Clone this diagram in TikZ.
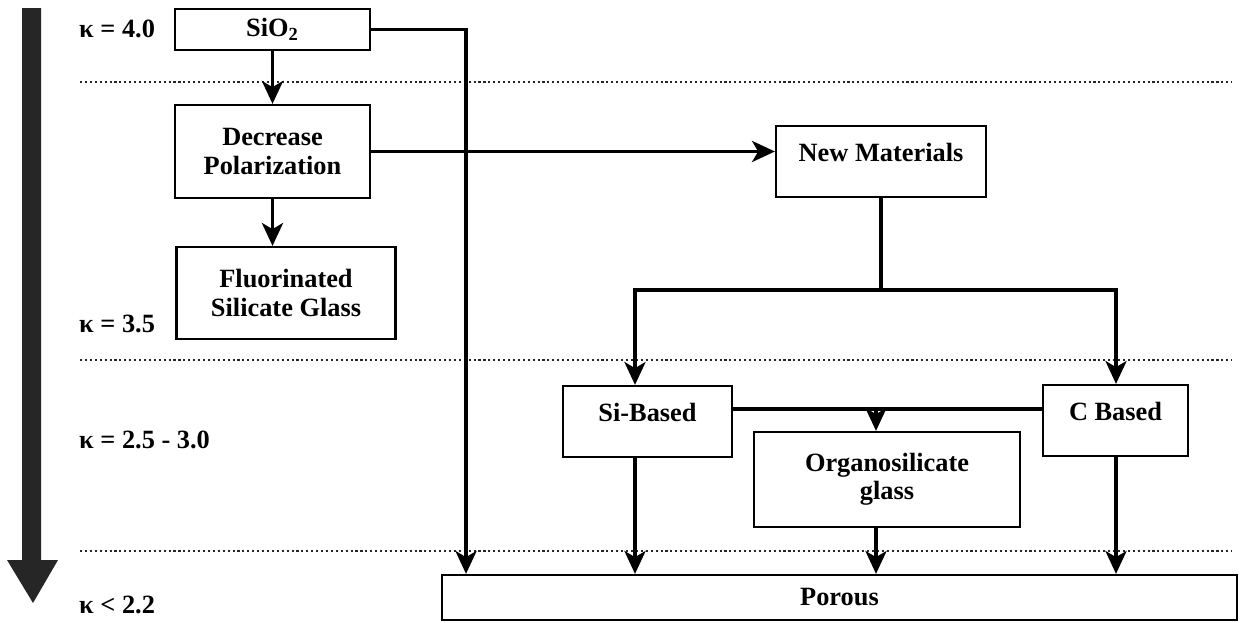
\documentclass[tikz,border=0pt]{standalone}
\usepackage{fontspec}
\setmainfont{Liberation Serif}
\usetikzlibrary{arrows.meta,positioning}

\begin{document}
\begin{tikzpicture}[x=0.02cm,y=-0.02cm,font=\fontsize{15}{16}\selectfont\bfseries,
    mat/.style={draw,line width=1.3pt,align=center,inner sep=2pt,fill=white},
    topmat/.style={mat,text depth=10pt},
    link/.style={line width=2pt},
    arr/.style={link,-{Stealth[length=13pt,width=12pt,inset=3.5pt]}},
    level/.style={line width=0.7pt,dash pattern=on 1.2pt off 1.6pt,black!85}]
    \useasboundingbox (0,0) rectangle (1240,622);
    % Kappa scale
    \fill[black!85] (22,8) -- (41,8) -- (41,560) -- (58,560) -- (33,603) -- (7,560) -- (22,560) -- cycle;
    \node[anchor=west] at (73,29) (k40) {κ = 4.0};
    \node[anchor=west] at (73,324) (k35) {κ = 3.5};
    \node[anchor=west] at (73,440) (k2530) {κ = 2.5 - 3.0};
    \node[anchor=west] at (73,605) (k22) {κ < 2.2};
    \draw[level] (80,82) -- (1232,82);
    \draw[level] (80,360) -- (1232,360);
    \draw[level] (80,551) -- (1232,551);
    % Materials
    \node[mat,minimum width=3.9cm,minimum height=0.82cm] at (272.5,29.5) (sio) {SiO\textsubscript{2}};
    \node[mat,minimum width=3.9cm,minimum height=1.86cm] at (272.5,151.5) (decpol) {Decrease\\Polarization};
    \node[mat,minimum width=4.38cm,minimum height=1.84cm] at (286,293) (fsg) {Fluorinated\\Silicate Glass};
    \node[topmat,minimum width=4.2cm,minimum height=1.42cm] at (881,161.5) (newmat) {New Materials};
    \node[topmat,minimum width=3.38cm,minimum height=1.42cm] at (647.5,421.5) (sib) {Si-Based};
    \node[topmat,minimum width=2.9cm,minimum height=1.42cm] at (1115.5,420.5) (cb) {C Based};
    \node[mat,minimum width=5.32cm,minimum height=1.9cm] at (887,479.5) (osg) {Organosilicate\\glass};
    \node[mat,minimum width=15.9cm,minimum height=0.9cm] at (839.5,597.5) (por) {Porous};
    % Arrows
    \coordinate (bypass) at (466,0);
    \coordinate (lsplit) at (635,290);
    \coordinate (rsplit) at (1116,290);
    \coordinate (osgin) at (876,409);
    \draw[arr] (sio) -- (decpol);
    \draw[arr] (decpol.south) -- (decpol.south |- fsg.north);
    \draw[arr] (sio.east) -| (bypass |- por.north);
    \draw[arr] (decpol.east) -- (decpol.east -| newmat.west);
    \draw[arr] (newmat.south) |- (lsplit) -- (lsplit |- sib.north);
    \draw[arr] (newmat.south) |- (rsplit) -- (rsplit |- cb.north);
    \draw[link] (sib.east |- osgin) -- (cb.west |- osgin);
    \draw[arr] (osgin) -- (osgin |- osg.north);
    \draw[arr] (lsplit |- sib.south) -- (lsplit |- por.north);
    \draw[arr] (osgin |- osg.south) -- (osgin |- por.north);
    \draw[arr] (rsplit |- cb.south) -- (rsplit |- por.north);
\end{tikzpicture}
\end{document}
